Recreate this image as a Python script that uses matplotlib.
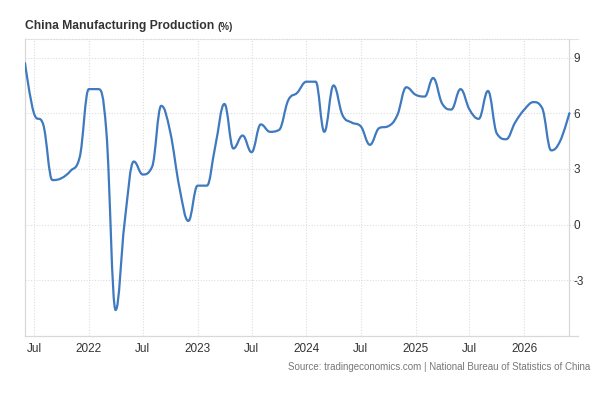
import matplotlib
matplotlib.use("Agg")
import matplotlib.pyplot as plt
import matplotlib.dates as mdates
from matplotlib.path import Path
from matplotlib.patches import PathPatch
import pandas as pd

# monthly readings, Jun 2021 .. Jun 2026 (YoY %)
first_month = "2021-06-01"
last_month = "2026-06-01"
values = [
    8.7, 6.0, 5.4, 2.4, 2.5, 2.9, 3.6,              # 2021
    7.3, 7.3, 5.0, -4.6, 0.1, 3.4, 2.7, 3.1, 6.4, 5.0, 2.0, 0.2,   # 2022
    2.1, 2.1, 4.2, 6.5, 4.1, 4.8, 3.9, 5.4, 5.0, 5.1, 6.7, 7.1,   # 2023
    7.7, 7.7, 5.0, 7.5, 5.9, 5.5, 5.3, 4.3, 5.2, 5.3, 5.9, 7.4,   # 2024
    7.0, 6.9, 7.9, 6.5, 6.2, 7.3, 6.2, 5.7, 7.2, 4.9, 4.6, 5.5,   # 2025
    6.2, 6.6, 6.3, 4.0, 4.5, 6.0,                    # 2026
]
y_ticks = [-3, 0, 3, 6, 9]

title = "China Manufacturing Production"
unit = "(%)"
source = "Source: tradingeconomics.com | National Bureau of Statistics of China"

months = pd.date_range(first_month, last_month, freq="MS")
xs = mdates.date2num(months.to_pydatetime())

plt.rcParams["font.family"] = ["Liberation Sans", "DejaVu Sans"]

W, H = 601, 411
fig = plt.figure(figsize=(W / 100, H / 100), dpi=100)
ax = fig.add_axes([25 / W, 1 - 336 / H, (578 - 25) / W, (336 - 39) / H])


def spline_path(xv, yv, smoothing=1.5):
    # highcharts-style spline: bezier control points with clamping at extremes
    n = len(xv)
    left = [(xv[i], yv[i]) for i in range(n)]
    right = [(xv[i], yv[i]) for i in range(n)]
    d = smoothing + 1
    for i in range(1, n - 1):
        px, py = xv[i], yv[i]
        lx, ly = xv[i - 1], yv[i - 1]
        nx, ny = xv[i + 1], yv[i + 1]
        lcx = (smoothing * px + lx) / d
        lcy = (smoothing * py + ly) / d
        rcx = (smoothing * px + nx) / d
        rcy = (smoothing * py + ny) / d
        corr = 0
        if rcx != lcx:
            corr = (rcy - lcy) * (rcx - px) / (rcx - lcx) + py - rcy
        lcy += corr
        rcy += corr
        if lcy > ly and lcy > py:
            lcy = max(ly, py)
            rcy = 2 * py - lcy
        elif lcy < ly and lcy < py:
            lcy = min(ly, py)
            rcy = 2 * py - lcy
        if rcy > ny and rcy > py:
            rcy = max(ny, py)
            lcy = 2 * py - rcy
        elif rcy < ny and rcy < py:
            rcy = min(ny, py)
            lcy = 2 * py - rcy
        left[i] = (lcx, lcy)
        right[i] = (rcx, rcy)
    verts = [(xv[0], yv[0])]
    codes = [Path.MOVETO]
    for i in range(1, n):
        verts += [right[i - 1], left[i], (xv[i], yv[i])]
        codes += [Path.CURVE4] * 3
    return Path(verts, codes)


ax.add_patch(PathPatch(spline_path(list(xs), values), fill=False,
                       edgecolor="#3f79bf", linewidth=1.6, zorder=3,
                       capstyle="round", joinstyle="round"))

x_end = mdates.date2num(pd.Timestamp("2026-06-30"))
ax.set_xlim(xs[0], x_end)
ax.set_ylim(-6, 10)

# x ticks every half year
ax.xaxis.set_major_locator(mdates.MonthLocator(bymonth=[1, 7]))
ax.xaxis.set_major_formatter(
    plt.FuncFormatter(lambda v, p: mdates.num2date(v).strftime("%Y")
                      if mdates.num2date(v).month == 1 else "Jul"))
ax.set_yticks(y_ticks)
ax.set_yticklabels([str(t) for t in y_ticks])

ax.yaxis.tick_right()
ax.tick_params(axis="y", length=0, pad=-3, labelsize=8.5, labelcolor="#333333")
ax.tick_params(axis="x", length=0, pad=5, labelsize=8.5, labelcolor="#333333")
for lbl in ax.get_yticklabels():
    lbl.set_horizontalalignment("left")

ax.grid(True, linestyle=(0, (1, 1.5)), color="#dddddd", linewidth=0.8)
ax.set_axisbelow(True)

for side in ["left", "bottom"]:
    ax.spines[side].set_color("#d8d8d8")
    ax.spines[side].set_linewidth(0.9)
ax.spines["top"].set_color("#dddddd")
ax.spines["top"].set_linestyle((0, (1, 1.5)))
ax.spines["top"].set_linewidth(0.8)
ax.spines["right"].set_visible(False)
ax.axvline(xs[-1], color="#d8d8d8", linewidth=0.9, zorder=1)

t = fig.text(25 / W, 1 - 26 / H, title, fontsize=8.7, fontweight="bold",
             color="#333333", va="center")
ax.annotate(unit, xy=(1, 0), xycoords=t, xytext=(2, 0), textcoords="offset points",
            fontsize=7, fontweight="bold", color="#333333", va="bottom")

fig.text(590 / W, 1 - 367 / H, source, fontsize=7, color="#777777",
         ha="right", va="center")

fig.savefig("out.png", dpi=100)
